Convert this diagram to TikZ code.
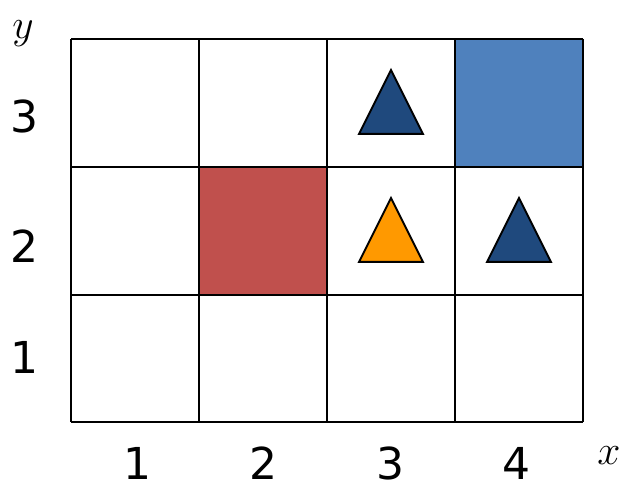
\documentclass[tikz,border=0pt]{standalone}
\usepackage{fontspec}
\setmainfont{DejaVu Sans}
\usepackage{xcolor}
\usepackage{tikz}
\usetikzlibrary{positioning}
\definecolor{cellred}{HTML}{C0504D}
\definecolor{cellblue}{HTML}{4F81BD}
\definecolor{agentblue}{HTML}{1F497D}
\definecolor{agentorange}{HTML}{FF9900}
\newcommand{\agent}[3]{%
  \filldraw[agent, fill=#3] (#1,#2) -- (#1+32,#2+64) -- (#1-32,#2+64) -- cycle;}
\begin{document}
\begin{tikzpicture}[x=0.5pt, y=-0.5pt, line width=1pt,
  font=\fontsize{22}{26}\selectfont,
  agent/.style={draw=black, line width=1pt, line join=miter},
  axisvar/.style={inner sep=0pt, font=\fontsize{22}{27}\selectfont}]
\useasboundingbox (0,0) rectangle (628,490);
% coloured cells (2,2) and (4,3)
\fill[cellred] (199,167) rectangle (327,295);
\fill[cellblue] (455,39) rectangle (583,167);
% grid 4 x 3
\foreach \xx in {71,199,327,455,583}
  \draw (\xx,39) -- (\xx,422);
\foreach \yy in {39,167,295,422}
  \draw (71,\yy) -- (583,\yy);
% agents
\agent{391}{70}{agentblue}
\agent{391}{198}{agentorange}
\agent{519}{198}{agentblue}
% x labels
\foreach \i/\xx in {1/137,2/263,3/390,4/516}
  \node (xl\i) at (\xx,463) {\i};
% y labels
\foreach \i/\yy in {1/357,2/246,3/116}
  \node (yl\i) at (24,\yy) {\i};
% axis names
\node[axisvar] (xname) at (609,456) {$x$};
\node[axisvar] (yname) at (23,34) {$y$};
\end{tikzpicture}
\end{document}
